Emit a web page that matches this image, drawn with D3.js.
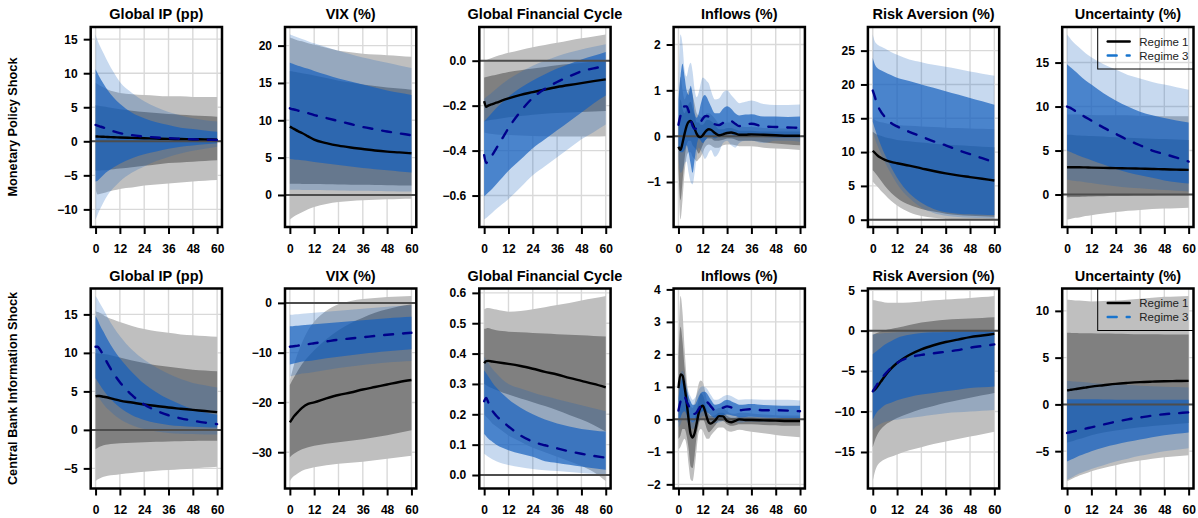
<!DOCTYPE html>
<html lang="en">
<head>
<meta charset="utf-8">
<title>Impulse responses by regime</title>
<script src="https://cdnjs.cloudflare.com/ajax/libs/d3/7.8.5/d3.min.js"></script>
<style>
  body { margin: 0; background: #fff; }
  svg { display: block; font-family: "Liberation Sans", Arial, Helvetica, sans-serif; }
  .title { font-weight: bold; font-size: 14.5px; text-anchor: middle; }
  .rowlabel { font-weight: bold; font-size: 12.7px; text-anchor: middle; }
  .tick text { font-family: "Liberation Sans", Arial, Helvetica, sans-serif; font-weight: bold; font-size: 12px; fill: #000; }
  .tick line { stroke: #000; stroke-width: 2; }
  .legend text { font-size: 11.5px; fill: #222; }
</style>
</head>
<body>
<div id="chart"></div>
<script>
// horizons in months
var horizons = [0, 1, 2, 4, 6, 9, 12, 18, 24, 30, 36, 42, 48, 54, 60];
var horizonsFine = [0, 1, 2, 3, 4, 5, 6, 7, 8, 9, 10, 11, 12, 13, 14, 15, 16, 18, 20, 22, 24, 26, 28, 30, 33, 36, 42, 48, 54, 60];
var xTicks = [0, 12, 24, 36, 48, 60];
var shocks = ["Monetary Policy Shock", "Central Bank Information Shock"];
var variables = ["Global IP (pp)", "VIX (%)", "Global Financial Cycle", "Inflows (%)", "Risk Aversion (%)", "Uncertainty (%)"];
var regimes = ["Regime 1", "Regime 3"];

// ---- monetary policy shock ----
var mpIP_r1 = {
  hi90: [8.6, 8.4, 8.2, 7.9, 7.6, 7.3, 7.1, 6.9, 6.8, 6.7, 6.6, 6.6, 6.5, 6.5, 6.5],
  hi68: [5.3, 5.25, 5.2, 5.1, 5.0, 4.85, 4.7, 4.5, 4.3, 4.15, 4.0, 3.9, 3.8, 3.7, 3.6],
  mid:  [0.7, 0.7, 0.68, 0.66, 0.63, 0.6, 0.55, 0.5, 0.45, 0.4, 0.36, 0.33, 0.3, 0.28, 0.25],
  lo68: [-4.3, -4.3, -4.28, -4.25, -4.2, -4.1, -4.0, -3.8, -3.6, -3.4, -3.2, -3.1, -3.0, -2.9, -2.8],
  lo90: [-7.0, -7.8, -7.75, -7.6, -7.4, -7.2, -7.0, -6.8, -6.5, -6.35, -6.2, -6.05, -5.9, -5.8, -5.7]
};
var mpIP_r3 = {
  hi90: [15.7, 14.8, 14.1, 12.9, 11.7, 10.1, 8.7, 7.1, 5.9, 5.0, 4.3, 3.8, 3.4, 3.1, 2.9],
  hi68: [10.6, 10.0, 9.4, 8.4, 7.5, 6.4, 5.5, 4.2, 3.4, 2.8, 2.4, 2.0, 1.8, 1.6, 1.4],
  mid:  [2.4, 2.3, 2.2, 2.0, 1.75, 1.45, 1.2, 0.9, 0.7, 0.55, 0.45, 0.37, 0.3, 0.25, 0.2],
  lo68: [-5.9, -5.8, -5.5, -4.9, -4.4, -3.8, -3.3, -2.5, -1.9, -1.5, -1.1, -0.8, -0.6, -0.45, -0.3],
  lo90: [-11.5, -10.8, -10.1, -8.9, -7.9, -6.8, -5.9, -4.6, -3.7, -2.9, -2.3, -1.8, -1.4, -1.1, -0.8]
};
var mpVIX_r1 = {
  hi90: [21.1, 21.0, 20.9, 20.7, 20.6, 20.3, 20.1, 19.7, 19.3, 19.1, 18.9, 18.8, 18.7, 18.6, 18.5],
  hi68: [16.6, 16.55, 16.5, 16.4, 16.3, 16.15, 16.0, 15.65, 15.3, 15.05, 14.8, 14.6, 14.4, 14.25, 14.1],
  mid:  [9.15, 9.0, 8.85, 8.55, 8.3, 7.85, 7.4, 6.95, 6.6, 6.35, 6.15, 5.95, 5.8, 5.7, 5.58],
  lo68: [1.5, 1.5, 1.5, 1.49, 1.48, 1.47, 1.45, 1.43, 1.4, 1.38, 1.35, 1.33, 1.3, 1.28, 1.25],
  lo90: [-3.3, -3.1, -2.9, -2.6, -2.3, -1.9, -1.6, -1.2, -0.95, -0.8, -0.7, -0.63, -0.57, -0.53, -0.5]
};
var mpVIX_r3 = {
  hi90: [21.5, 21.4, 21.3, 21.1, 20.9, 20.6, 20.3, 19.8, 19.3, 18.85, 18.4, 18.05, 17.7, 17.35, 17.0],
  hi68: [17.7, 17.6, 17.5, 17.3, 17.15, 16.9, 16.6, 16.1, 15.6, 15.2, 14.8, 14.4, 14.0, 13.7, 13.4],
  mid:  [11.6, 11.5, 11.45, 11.3, 11.15, 10.95, 10.7, 10.3, 9.9, 9.5, 9.1, 8.8, 8.5, 8.25, 8.0],
  lo68: [4.8, 4.77, 4.75, 4.7, 4.65, 4.55, 4.4, 4.2, 4.0, 3.8, 3.6, 3.45, 3.3, 3.15, 3.0],
  lo90: [0.7, 0.7, 0.69, 0.68, 0.67, 0.66, 0.65, 0.62, 0.6, 0.57, 0.55, 0.52, 0.5, 0.47, 0.45]
};
var mpGFC_r1 = {
  hi90: [0.0, 0.003, 0.007, 0.013, 0.02, 0.028, 0.035, 0.048, 0.06, 0.07, 0.08, 0.09, 0.1, 0.108, 0.117],
  hi68: [-0.075, -0.073, -0.07, -0.066, -0.062, -0.056, -0.05, -0.042, -0.035, -0.028, -0.02, -0.015, -0.01, -0.005, 0.0],
  mid:  [-0.18, -0.205, -0.2, -0.193, -0.187, -0.177, -0.168, -0.152, -0.14, -0.128, -0.117, -0.108, -0.1, -0.091, -0.083],
  lo68: [-0.27, -0.268, -0.266, -0.263, -0.26, -0.256, -0.252, -0.246, -0.24, -0.236, -0.233, -0.23, -0.228, -0.226, -0.224],
  lo90: [-0.32, -0.322, -0.324, -0.326, -0.328, -0.33, -0.331, -0.333, -0.335, -0.336, -0.337, -0.337, -0.337, -0.337, -0.336]
};
var mpGFC_r3 = {
  hi90: [-0.17, -0.162, -0.155, -0.14, -0.125, -0.103, -0.083, -0.05, -0.022, 0.0, 0.02, 0.036, 0.05, 0.062, 0.073],
  hi68: [-0.27, -0.26, -0.25, -0.23, -0.21, -0.185, -0.16, -0.12, -0.088, -0.06, -0.035, -0.015, 0.005, 0.022, 0.039],
  mid:  [-0.42, -0.455, -0.445, -0.42, -0.39, -0.345, -0.3, -0.225, -0.165, -0.125, -0.095, -0.07, -0.047, -0.034, -0.024],
  lo68: [-0.603, -0.595, -0.587, -0.57, -0.55, -0.52, -0.49, -0.44, -0.39, -0.35, -0.31, -0.27, -0.23, -0.19, -0.155],
  lo90: [-0.707, -0.7, -0.692, -0.676, -0.66, -0.638, -0.615, -0.563, -0.51, -0.47, -0.43, -0.39, -0.35, -0.318, -0.284]
};
var mpInf_r1 = {
  hi90: [0.5, 1.3, 1.0, 0.8, 0.9, 1.0, 1.05, 0.9, 0.7, 0.5, 0.45, 0.42, 0.42, 0.45, 0.5, 0.5, 0.48, 0.38, 0.28, 0.28, 0.3, 0.3, 0.25, 0.22, 0.2, 0.2, 0.18, 0.17, 0.17, 0.17],
  hi68: [0.25, 0.8, 0.6, 0.5, 0.6, 0.7, 0.75, 0.6, 0.45, 0.3, 0.3, 0.25, 0.25, 0.3, 0.35, 0.35, 0.33, 0.25, 0.15, 0.15, 0.18, 0.18, 0.15, 0.12, 0.12, 0.12, 0.1, 0.1, 0.1, 0.1],
  mid:  [-0.23, -0.3, -0.15, 0.05, 0.22, 0.31, 0.33, 0.27, 0.16, 0.05, -0.01, -0.02, 0.02, 0.08, 0.13, 0.15, 0.14, 0.07, 0.02, 0.04, 0.07, 0.08, 0.06, 0.03, 0.03, 0.04, 0.03, 0.02, 0.01, 0.01],
  lo68: [-0.7, -1.4, -1.0, -0.5, -0.2, -0.1, -0.1, -0.2, -0.25, -0.3, -0.38, -0.3, -0.2, -0.1, -0.05, -0.05, -0.05, -0.1, -0.1, -0.08, -0.05, -0.05, -0.07, -0.1, -0.1, -0.1, -0.13, -0.16, -0.18, -0.2],
  lo90: [-1.0, -1.82, -1.4, -0.8, -0.45, -0.35, -0.35, -0.45, -0.5, -0.55, -0.5, -0.45, -0.35, -0.25, -0.2, -0.18, -0.2, -0.25, -0.25, -0.2, -0.18, -0.18, -0.2, -0.22, -0.22, -0.22, -0.25, -0.27, -0.28, -0.3]
};
var mpInf_r3 = {
  hi90: [1.0, 2.22, 2.0, 1.45, 1.3, 1.5, 1.6, 1.4, 1.0, 0.85, 0.95, 1.15, 1.28, 1.25, 1.2, 1.15, 1.0, 0.8, 0.82, 0.95, 1.0, 0.9, 0.8, 0.72, 0.75, 0.78, 0.7, 0.68, 0.68, 0.69],
  hi68: [0.8, 1.3, 1.58, 1.3, 1.0, 0.9, 1.1, 0.9, 0.5, 0.4, 0.5, 0.7, 0.85, 0.9, 0.85, 0.75, 0.65, 0.5, 0.5, 0.6, 0.65, 0.6, 0.5, 0.45, 0.47, 0.48, 0.43, 0.43, 0.42, 0.43],
  mid:  [0.25, 0.45, 0.58, 0.65, 0.65, 0.55, 0.38, 0.22, 0.16, 0.17, 0.23, 0.31, 0.38, 0.43, 0.44, 0.42, 0.37, 0.26, 0.24, 0.29, 0.34, 0.33, 0.27, 0.22, 0.25, 0.27, 0.21, 0.2, 0.19, 0.18],
  lo68: [-0.25, -0.35, -0.35, -0.3, -0.2, -0.35, -0.6, -0.8, -0.5, -0.2, -0.05, -0.1, -0.15, -0.1, -0.05, 0.0, 0.0, -0.05, 0.0, 0.05, 0.05, 0.05, 0.0, 0.0, 0.0, 0.02, -0.02, -0.03, -0.03, -0.03],
  lo90: [-0.5, -0.8, -0.75, -0.6, -0.55, -0.8, -1.0, -1.05, -0.8, -0.45, -0.25, -0.3, -0.4, -0.5, -0.45, -0.35, -0.3, -0.45, -0.35, -0.15, -0.1, -0.2, -0.25, -0.15, -0.1, -0.1, -0.15, -0.1, -0.1, -0.12]
};
var mpRA_r1 = {
  hi90: [15.0, 14.8, 14.6, 14.4, 14.3, 14.1, 14.0, 13.9, 13.8, 13.7, 13.6, 13.55, 13.5, 13.45, 13.4],
  hi68: [13.0, 12.8, 12.6, 12.4, 12.2, 12.0, 11.8, 11.6, 11.4, 11.25, 11.1, 11.0, 10.9, 10.8, 10.7],
  mid:  [10.2, 9.9, 9.6, 9.15, 8.85, 8.55, 8.35, 8.0, 7.6, 7.2, 6.85, 6.55, 6.3, 6.05, 5.8],
  lo68: [7.3, 7.0, 6.6, 5.8, 5.0, 4.0, 3.2, 2.2, 1.6, 1.2, 0.9, 0.7, 0.6, 0.5, 0.45],
  lo90: [5.6, 5.3, 5.0, 4.3, 3.7, 2.8, 2.1, 1.1, 0.55, 0.28, 0.13, 0.08, 0.05, 0.03, 0.02]
};
var mpRA_r3 = {
  hi90: [27.4, 26.4, 26.0, 25.6, 25.3, 24.8, 24.4, 23.7, 23.3, 22.9, 22.6, 22.3, 21.9, 21.6, 21.3],
  hi68: [23.9, 23.0, 22.5, 22.1, 21.8, 21.4, 21.0, 20.5, 20.0, 19.5, 19.0, 18.5, 18.0, 17.5, 17.0],
  mid:  [19.1, 18.2, 17.2, 16.0, 15.2, 14.3, 13.8, 13.0, 12.3, 11.6, 11.0, 10.3, 9.7, 9.1, 8.5],
  lo68: [14.5, 13.5, 12.6, 11.0, 9.6, 7.8, 6.2, 3.9, 2.5, 1.6, 1.1, 0.9, 0.8, 0.75, 0.7],
  lo90: [13.0, 12.0, 11.2, 9.8, 8.5, 6.8, 5.3, 3.2, 1.8, 1.0, 0.6, 0.4, 0.3, 0.25, 0.2]
};
var mpUnc_r1 = {
  hi90: [9.1, 9.1, 9.1, 9.1, 9.1, 9.05, 9.05, 9.0, 9.0, 9.0, 8.95, 8.95, 8.9, 8.9, 8.9],
  hi68: [6.8, 6.8, 6.78, 6.75, 6.72, 6.68, 6.65, 6.6, 6.5, 6.45, 6.4, 6.35, 6.3, 6.25, 6.2],
  mid:  [3.1, 3.1, 3.1, 3.1, 3.1, 3.08, 3.06, 3.03, 3.0, 2.97, 2.94, 2.9, 2.87, 2.83, 2.8],
  lo68: [-0.3, -0.3, -0.29, -0.28, -0.27, -0.25, -0.23, -0.2, -0.18, -0.16, -0.14, -0.13, -0.12, -0.11, -0.1],
  lo90: [-2.85, -2.8, -2.75, -2.65, -2.6, -2.45, -2.35, -2.15, -2.0, -1.85, -1.75, -1.65, -1.6, -1.55, -1.5]
};
var mpUnc_r3 = {
  hi90: [18.2, 17.9, 17.6, 17.1, 16.7, 16.1, 15.6, 14.8, 14.2, 13.6, 13.2, 12.8, 12.5, 12.2, 11.9],
  hi68: [14.8, 14.6, 14.4, 14.0, 13.6, 13.0, 12.5, 11.5, 10.7, 10.0, 9.4, 9.0, 8.7, 8.4, 8.2],
  mid:  [10.0, 9.9, 9.8, 9.5, 9.2, 8.8, 8.4, 7.6, 6.9, 6.2, 5.6, 5.0, 4.6, 4.2, 3.75],
  lo68: [5.0, 4.9, 4.8, 4.6, 4.4, 4.15, 3.9, 3.4, 2.9, 2.5, 2.2, 1.9, 1.6, 1.4, 1.25],
  lo90: [1.7, 1.65, 1.6, 1.55, 1.5, 1.4, 1.3, 1.1, 0.95, 0.8, 0.7, 0.6, 0.5, 0.42, 0.35]
};

// ---- central bank information shock ----
var cbIP_r1 = {
  hi90: [15.4, 15.3, 15.2, 14.9, 14.6, 14.3, 14.0, 13.5, 13.1, 12.8, 12.6, 12.4, 12.3, 12.2, 12.1],
  hi68: [10.0, 9.95, 9.9, 9.85, 9.8, 9.6, 9.4, 9.0, 8.7, 8.4, 8.2, 8.0, 7.8, 7.7, 7.6],
  mid:  [4.35, 4.4, 4.4, 4.3, 4.2, 4.0, 3.8, 3.55, 3.3, 3.1, 2.9, 2.75, 2.6, 2.45, 2.3],
  lo68: [-2.5, -2.35, -2.2, -2.0, -1.9, -1.8, -1.75, -1.68, -1.6, -1.55, -1.5, -1.47, -1.45, -1.42, -1.4],
  lo90: [-6.65, -6.45, -6.3, -6.1, -5.95, -5.85, -5.75, -5.6, -5.45, -5.3, -5.2, -5.1, -5.0, -4.9, -4.8]
};
var cbIP_r3 = {
  hi90: [17.4, 17.0, 16.5, 15.6, 14.6, 13.3, 12.2, 10.4, 9.1, 8.1, 7.3, 6.6, 6.1, 5.8, 5.5],
  hi68: [14.8, 14.3, 13.7, 12.7, 11.7, 10.4, 9.3, 7.5, 6.0, 4.9, 4.0, 3.3, 2.7, 2.3, 1.95],
  mid:  [10.8, 10.8, 10.5, 9.6, 8.6, 7.3, 6.2, 4.5, 3.3, 2.5, 1.9, 1.5, 1.2, 0.95, 0.75],
  lo68: [6.7, 6.3, 5.9, 5.1, 4.4, 3.6, 2.9, 1.9, 1.3, 0.9, 0.65, 0.5, 0.4, 0.35, 0.3],
  lo90: [4.5, 4.3, 4.0, 3.3, 2.7, 2.0, 1.4, 0.6, 0.1, -0.2, -0.4, -0.5, -0.55, -0.6, -0.6]
};
var cbVIX_r1 = {
  hi90: [-15.5, -14.0, -12.5, -10.0, -8.0, -5.5, -3.8, -1.6, -0.3, 0.4, 0.8, 1.0, 1.2, 1.3, 1.4],
  hi68: [-16.5, -15.7, -15.0, -13.6, -12.3, -10.8, -9.5, -7.3, -5.5, -4.1, -3.0, -2.0, -1.3, -0.7, -0.3],
  mid:  [-24.0, -23.4, -22.8, -21.9, -21.1, -20.3, -20.0, -19.2, -18.5, -18.0, -17.4, -16.9, -16.4, -15.9, -15.5],
  lo68: [-31.0, -30.6, -30.3, -29.8, -29.4, -29.0, -28.7, -28.3, -28.0, -27.7, -27.4, -27.0, -26.6, -26.1, -25.6],
  lo90: [-35.8, -35.2, -34.8, -34.2, -33.7, -33.3, -33.0, -32.6, -32.3, -32.1, -31.9, -31.6, -31.3, -31.0, -30.7]
};
var cbVIX_r3 = {
  hi90: [-2.4, -2.4, -2.35, -2.3, -2.2, -2.1, -2.0, -1.8, -1.6, -1.4, -1.2, -1.0, -0.8, -0.65, -0.5],
  hi68: [-4.7, -4.7, -4.65, -4.6, -4.5, -4.4, -4.3, -4.1, -3.9, -3.7, -3.5, -3.3, -3.1, -2.95, -2.8],
  mid:  [-8.8, -8.75, -8.7, -8.6, -8.45, -8.3, -8.1, -7.75, -7.4, -7.15, -6.9, -6.65, -6.4, -6.2, -6.0],
  lo68: [-12.4, -12.3, -12.2, -12.0, -11.8, -11.7, -11.5, -11.1, -10.8, -10.5, -10.2, -9.95, -9.7, -9.5, -9.3],
  lo90: [-14.8, -14.7, -14.6, -14.4, -14.2, -14.1, -13.9, -13.5, -13.1, -12.8, -12.5, -12.25, -12.0, -11.85, -11.7]
};
var cbGFC_r1 = {
  hi90: [0.546, 0.549, 0.55, 0.548, 0.545, 0.541, 0.538, 0.54, 0.546, 0.553, 0.56, 0.567, 0.575, 0.582, 0.59],
  hi68: [0.482, 0.483, 0.484, 0.48, 0.477, 0.474, 0.472, 0.47, 0.468, 0.466, 0.464, 0.462, 0.46, 0.458, 0.456],
  mid:  [0.368, 0.375, 0.376, 0.374, 0.372, 0.369, 0.366, 0.359, 0.35, 0.34, 0.331, 0.32, 0.31, 0.3, 0.289],
  lo68: [0.3, 0.296, 0.292, 0.286, 0.28, 0.272, 0.265, 0.252, 0.24, 0.227, 0.213, 0.198, 0.183, 0.165, 0.143],
  lo90: [0.2, 0.192, 0.185, 0.17, 0.16, 0.145, 0.13, 0.11, 0.09, 0.075, 0.06, 0.045, 0.03, 0.01, -0.02]
};
var cbGFC_r3 = {
  hi90: [0.39, 0.38, 0.37, 0.35, 0.335, 0.315, 0.3, 0.285, 0.272, 0.26, 0.25, 0.24, 0.23, 0.22, 0.21],
  hi68: [0.345, 0.335, 0.325, 0.305, 0.288, 0.268, 0.25, 0.222, 0.2, 0.183, 0.17, 0.16, 0.152, 0.147, 0.143],
  mid:  [0.243, 0.254, 0.24, 0.212, 0.195, 0.177, 0.16, 0.13, 0.11, 0.098, 0.088, 0.078, 0.07, 0.063, 0.057],
  lo68: [0.135, 0.128, 0.12, 0.11, 0.1, 0.09, 0.082, 0.07, 0.06, 0.045, 0.04, 0.034, 0.028, 0.022, 0.017],
  lo90: [0.07, 0.065, 0.06, 0.052, 0.045, 0.038, 0.033, 0.026, 0.02, 0.016, 0.013, 0.01, 0.007, 0.004, 0.002]
};
var cbInf_r1 = {
  hi90: [2.2, 3.8, 3.3, 2.2, 1.3, 0.7, 0.4, 0.35, 0.5, 0.8, 1.1, 1.2, 1.15, 0.9, 0.6, 0.4, 0.3, 0.3, 0.35, 0.35, 0.25, 0.18, 0.17, 0.2, 0.2, 0.18, 0.15, 0.13, 0.12, 0.12],
  hi68: [1.8, 2.85, 2.4, 1.6, 1.0, 0.4, 0.0, -0.1, 0.0, 0.3, 0.6, 0.8, 0.75, 0.55, 0.3, 0.15, 0.1, 0.12, 0.2, 0.2, 0.1, 0.05, 0.05, 0.08, 0.08, 0.07, 0.06, 0.05, 0.05, 0.05],
  mid:  [0.96, 1.38, 1.35, 1.0, 0.55, 0.0, -0.45, -0.56, -0.42, -0.12, 0.2, 0.38, 0.42, 0.28, 0.06, -0.1, -0.13, -0.04, 0.1, 0.09, -0.05, -0.09, -0.05, 0.0, -0.02, -0.02, -0.03, -0.04, -0.05, -0.05],
  lo68: [-0.6, -0.5, -0.3, -0.3, -0.5, -0.9, -1.45, -1.5, -1.1, -0.5, -0.15, 0.0, 0.0, -0.1, -0.3, -0.4, -0.35, -0.2, -0.05, -0.05, -0.15, -0.2, -0.18, -0.15, -0.15, -0.15, -0.17, -0.18, -0.2, -0.2],
  lo90: [-0.92, -0.85, -0.7, -0.6, -0.8, -1.4, -1.85, -1.9, -1.5, -0.9, -0.4, -0.3, -0.35, -0.5, -0.6, -0.6, -0.5, -0.35, -0.25, -0.25, -0.35, -0.38, -0.35, -0.32, -0.35, -0.38, -0.43, -0.48, -0.52, -0.55]
};
var cbInf_r3 = {
  hi90: [0.9, 1.4, 1.5, 1.35, 1.05, 0.85, 0.7, 0.6, 0.65, 0.75, 0.9, 1.0, 1.02, 1.0, 0.95, 0.85, 0.75, 0.6, 0.62, 0.7, 0.75, 0.72, 0.65, 0.6, 0.62, 0.62, 0.6, 0.6, 0.6, 0.58],
  hi68: [0.65, 1.1, 1.25, 1.15, 0.9, 0.7, 0.55, 0.45, 0.45, 0.55, 0.7, 0.8, 0.85, 0.85, 0.8, 0.7, 0.6, 0.45, 0.47, 0.55, 0.6, 0.56, 0.5, 0.45, 0.46, 0.47, 0.44, 0.43, 0.42, 0.42],
  mid:  [0.27, 0.55, 0.72, 0.7, 0.55, 0.42, 0.28, 0.18, 0.17, 0.22, 0.32, 0.42, 0.5, 0.53, 0.53, 0.48, 0.4, 0.28, 0.3, 0.36, 0.4, 0.37, 0.32, 0.28, 0.3, 0.31, 0.28, 0.28, 0.27, 0.25],
  lo68: [-0.1, 0.05, 0.2, 0.25, 0.15, 0.05, -0.05, -0.1, -0.05, 0.0, 0.1, 0.2, 0.25, 0.25, 0.22, 0.18, 0.12, 0.05, 0.08, 0.12, 0.15, 0.13, 0.1, 0.06, 0.07, 0.08, 0.06, 0.05, 0.04, 0.03],
  lo90: [-0.25, -0.15, 0.0, 0.05, -0.05, -0.15, -0.25, -0.3, -0.25, -0.15, -0.05, 0.05, 0.1, 0.1, 0.05, 0.0, -0.05, -0.12, -0.1, -0.05, -0.02, -0.03, -0.07, -0.1, -0.08, -0.07, -0.07, -0.06, -0.05, -0.04]
};
var cbRA_r1 = {
  hi90: [3.8, 3.75, 3.7, 3.6, 3.5, 3.45, 3.45, 3.5, 3.6, 3.75, 3.85, 3.95, 4.05, 4.15, 4.3],
  hi68: [-0.5, -0.4, -0.3, -0.1, 0.05, 0.2, 0.35, 0.7, 1.0, 1.2, 1.35, 1.45, 1.52, 1.58, 1.65],
  mid:  [-7.5, -7.3, -7.0, -6.3, -5.6, -4.7, -4.0, -3.0, -2.3, -1.8, -1.4, -1.1, -0.8, -0.6, -0.4],
  lo68: [-14.4, -13.6, -13.0, -12.2, -11.7, -11.2, -10.8, -10.2, -9.7, -9.3, -8.9, -8.6, -8.3, -8.0, -7.7],
  lo90: [-18.6, -17.5, -16.8, -16.2, -15.9, -15.6, -15.3, -14.8, -14.4, -14.0, -13.7, -13.4, -13.1, -12.8, -12.5]
};
var cbRA_r3 = {
  hi90: [-0.4, -0.4, -0.4, -0.35, -0.3, -0.25, -0.2, -0.1, -0.05, 0.0, 0.0, 0.0, 0.0, 0.0, 0.0],
  hi68: [-2.9, -2.7, -2.5, -2.1, -1.7, -1.3, -0.9, -0.5, -0.3, -0.2, -0.15, -0.12, -0.1, -0.1, -0.1],
  mid:  [-7.5, -7.1, -6.7, -6.0, -5.4, -4.6, -4.0, -3.3, -3.0, -2.8, -2.6, -2.4, -2.1, -1.9, -1.7],
  lo68: [-11.0, -10.5, -10.1, -9.6, -9.2, -8.9, -8.6, -8.2, -7.9, -7.7, -7.5, -7.3, -7.1, -7.0, -6.9],
  lo90: [-12.3, -12.0, -11.8, -11.5, -11.3, -11.1, -11.0, -10.8, -10.6, -10.4, -10.2, -10.1, -10.0, -9.9, -9.8]
};
var cbUnc_r1 = {
  hi90: [11.2, 11.18, 11.15, 11.1, 11.1, 11.05, 11.0, 11.05, 11.1, 11.2, 11.3, 11.4, 11.5, 11.55, 11.6],
  hi68: [7.65, 7.65, 7.64, 7.63, 7.62, 7.61, 7.6, 7.57, 7.55, 7.53, 7.5, 7.49, 7.48, 7.47, 7.47],
  mid:  [1.5, 1.53, 1.57, 1.63, 1.7, 1.8, 1.9, 2.05, 2.2, 2.3, 2.38, 2.43, 2.47, 2.5, 2.52],
  lo68: [-4.1, -4.03, -3.97, -3.83, -3.7, -3.5, -3.3, -3.0, -2.8, -2.6, -2.45, -2.3, -2.2, -2.1, -2.0],
  lo90: [-8.2, -8.1, -8.0, -7.8, -7.6, -7.4, -7.15, -6.8, -6.5, -6.2, -6.0, -5.8, -5.65, -5.55, -5.45]
};
var cbUnc_r3 = {
  hi90: [2.5, 2.5, 2.48, 2.45, 2.42, 2.36, 2.3, 2.22, 2.15, 2.07, 2.0, 1.95, 1.9, 1.85, 1.8],
  hi68: [0.55, 0.55, 0.55, 0.55, 0.55, 0.55, 0.55, 0.52, 0.5, 0.5, 0.5, 0.5, 0.5, 0.5, 0.5],
  mid:  [-3.05, -3.0, -2.95, -2.85, -2.75, -2.6, -2.45, -2.15, -1.85, -1.6, -1.4, -1.2, -1.05, -0.95, -0.85],
  lo68: [-6.1, -6.0, -5.9, -5.7, -5.5, -5.25, -5.0, -4.6, -4.3, -4.0, -3.75, -3.5, -3.3, -3.15, -3.0],
  lo90: [-8.05, -7.95, -7.85, -7.6, -7.4, -7.15, -6.9, -6.5, -6.1, -5.8, -5.5, -5.25, -5.0, -4.85, -4.7]
};

// y tick values per panel
var mpIPTicks = [-10, -5, 0, 5, 10, 15];
var mpVIXTicks = [0, 5, 10, 15, 20];
var mpGFCTicks = [-0.6, -0.4, -0.2, 0.0];
var mpInfTicks = [-1, 0, 1, 2];
var mpRATicks = [0, 5, 10, 15, 20, 25];
var mpUncTicks = [0, 5, 10, 15];
var cbIPTicks = [-5, 0, 5, 10, 15];
var cbVIXTicks = [-30, -20, -10, 0];
var cbGFCTicks = [0.0, 0.1, 0.2, 0.3, 0.4, 0.5, 0.6];
var cbInfTicks = [-2, -1, 0, 1, 2, 3, 4];
var cbRATicks = [-15, -10, -5, 0, 5];
var cbUncTicks = [-5, 0, 5, 10];

var panels = [
  {row: 0, col: 0, h: horizons, r1: mpIP_r1, r3: mpIP_r3, ticks: mpIPTicks, fmt: "d"},
  {row: 0, col: 1, h: horizons, r1: mpVIX_r1, r3: mpVIX_r3, ticks: mpVIXTicks, fmt: "d"},
  {row: 0, col: 2, h: horizons, r1: mpGFC_r1, r3: mpGFC_r3, ticks: mpGFCTicks, fmt: ".1f"},
  {row: 0, col: 3, h: horizonsFine, r1: mpInf_r1, r3: mpInf_r3, ticks: mpInfTicks, fmt: "d"},
  {row: 0, col: 4, h: horizons, r1: mpRA_r1, r3: mpRA_r3, ticks: mpRATicks, fmt: "d"},
  {row: 0, col: 5, h: horizons, r1: mpUnc_r1, r3: mpUnc_r3, ticks: mpUncTicks, fmt: "d", legend: true},
  {row: 1, col: 0, h: horizons, r1: cbIP_r1, r3: cbIP_r3, ticks: cbIPTicks, fmt: "d"},
  {row: 1, col: 1, h: horizons, r1: cbVIX_r1, r3: cbVIX_r3, ticks: cbVIXTicks, fmt: "d"},
  {row: 1, col: 2, h: horizons, r1: cbGFC_r1, r3: cbGFC_r3, ticks: cbGFCTicks, fmt: ".1f"},
  {row: 1, col: 3, h: horizonsFine, r1: cbInf_r1, r3: cbInf_r3, ticks: cbInfTicks, fmt: "d"},
  {row: 1, col: 4, h: horizons, r1: cbRA_r1, r3: cbRA_r3, ticks: cbRATicks, fmt: "d"},
  {row: 1, col: 5, h: horizons, r1: cbUnc_r1, r3: cbUnc_r3, ticks: cbUncTicks, fmt: "d", legend: true}
];

// layout (pixels)
var width = 1198, height = 518;
var col0 = 90.7, colStep = 194.3, boxW = 131.3, boxH = 200;
var rowTop = [27, 288.5];

// colours
var grey90 = "#bfbfbf", grey68 = "#808080";
var blue = "#1560bd";

var svg = d3.select("#chart").append("svg")
    .attr("width", width)
    .attr("height", height);

// row labels
shocks.forEach(function(s, r) {
  svg.append("text")
      .attr("class", "rowlabel")
      .attr("transform", "translate(17," + (rowTop[r] + boxH / 2) + ") rotate(-90)")
      .text(s);
});

panels.forEach(function(p, i) {
  var left = col0 + p.col * colStep;
  var top = rowTop[p.row];
  var bands = ["lo90", "lo68", "mid", "hi68", "hi90"];

  var x = d3.scaleLinear().domain([-2.4, 62.4]).range([left, left + boxW]);

  // R style 4% padding around the data range
  var all = [];
  bands.forEach(function(k) { all = all.concat(p.r1[k], p.r3[k]); });
  var lo = d3.min(all), hi = d3.max(all), pad = 0.04 * (hi - lo);
  var y = d3.scaleLinear().domain([lo - pad, hi + pad]).range([top + boxH, top]);

  var g = svg.append("g");

  g.append("clipPath").attr("id", "clip" + i)
    .append("rect")
      .attr("x", left).attr("y", top)
      .attr("width", boxW).attr("height", boxH);

  var plot = g.append("g").attr("clip-path", "url(#clip" + i + ")");

  // grid
  plot.selectAll(".vgrid").data(xTicks).enter().append("line")
      .attr("x1", function(d) { return x(d); }).attr("x2", function(d) { return x(d); })
      .attr("y1", top).attr("y2", top + boxH)
      .attr("stroke", "#d9d9d9").attr("stroke-width", 1.4);
  plot.selectAll(".hgrid").data(p.ticks).enter().append("line")
      .attr("y1", function(d) { return y(d); }).attr("y2", function(d) { return y(d); })
      .attr("x1", left).attr("x2", left + boxW)
      .attr("stroke", "#d9d9d9").attr("stroke-width", 1.4);

  var idx = d3.range(p.h.length);
  function band(set, a, b) {
    return d3.area()
        .x(function(j) { return x(p.h[j]); })
        .y0(function(j) { return y(set[a][j]); })
        .y1(function(j) { return y(set[b][j]); })
        .curve(d3.curveMonotoneX)(idx);
  }
  function line(set) {
    return d3.line()
        .x(function(j) { return x(p.h[j]); })
        .y(function(j) { return y(set.mid[j]); })
        .curve(d3.curveMonotoneX)(idx);
  }

  plot.append("path").attr("d", band(p.r1, "lo90", "hi90")).attr("fill", grey90);
  plot.append("path").attr("d", band(p.r1, "lo68", "hi68")).attr("fill", grey68);
  plot.append("path").attr("d", band(p.r3, "lo90", "hi90")).attr("fill", blue).attr("fill-opacity", 0.24);
  plot.append("path").attr("d", band(p.r3, "lo68", "hi68")).attr("fill", blue).attr("fill-opacity", 0.7);

  // zero line
  plot.append("line")
      .attr("x1", left).attr("x2", left + boxW)
      .attr("y1", y(0)).attr("y2", y(0))
      .attr("stroke", "#4d4d4d").attr("stroke-width", 2);

  plot.append("path").attr("d", line(p.r1))
      .attr("fill", "none").attr("stroke", "#000").attr("stroke-width", 2.4);
  plot.append("path").attr("d", line(p.r3))
      .attr("fill", "none").attr("stroke", "#00008b").attr("stroke-width", 2.4)
      .attr("stroke-dasharray", "9,10").attr("stroke-linecap", "round");

  // axes
  var fmt = d3.format(p.fmt);
  var yAxis = g.append("g")
      .attr("transform", "translate(" + left + ",0)")
      .call(d3.axisLeft(y).tickValues(p.ticks).tickSize(7).tickPadding(6).tickFormat(fmt));
  var xAxis = g.append("g")
      .attr("transform", "translate(0," + (top + boxH) + ")")
      .call(d3.axisBottom(x).tickValues(xTicks).tickSize(7).tickPadding(10));
  [yAxis, xAxis].forEach(function(a) {
    a.select(".domain").remove();
    a.attr("font-family", null).attr("font-size", null);
  });

  // box
  g.append("rect")
      .attr("x", left).attr("y", top)
      .attr("width", boxW).attr("height", boxH)
      .attr("fill", "none").attr("stroke", "#000").attr("stroke-width", 2.5);

  // title
  g.append("text")
      .attr("class", "title")
      .attr("x", left + boxW / 2).attr("y", top - 8)
      .text(variables[p.col]);

  if (p.legend) {
    var lx = 1097.7, lw = left + boxW - lx;
    var leg = g.append("g").attr("class", "legend");
    leg.append("rect")
        .attr("x", lx).attr("y", top)
        .attr("width", lw).attr("height", 42)
        .attr("fill", "none").attr("stroke", "#000").attr("stroke-width", 1);
    var styles = [{c: "#000", dash: null}, {c: "#1874cd", dash: "9,10"}];
    regimes.forEach(function(r, k) {
      var ly = top + 14.5 + k * 14;
      leg.append("line")
          .attr("x1", lx + 10).attr("x2", lx + 32)
          .attr("y1", ly).attr("y2", ly)
          .attr("stroke", styles[k].c).attr("stroke-width", 2.4)
          .attr("stroke-dasharray", styles[k].dash)
          .attr("stroke-linecap", "round");
      leg.append("text")
          .attr("x", lx + 41.6).attr("y", ly + 4)
          .text(r);
    });
  }
});
</script>
</body>
</html>
